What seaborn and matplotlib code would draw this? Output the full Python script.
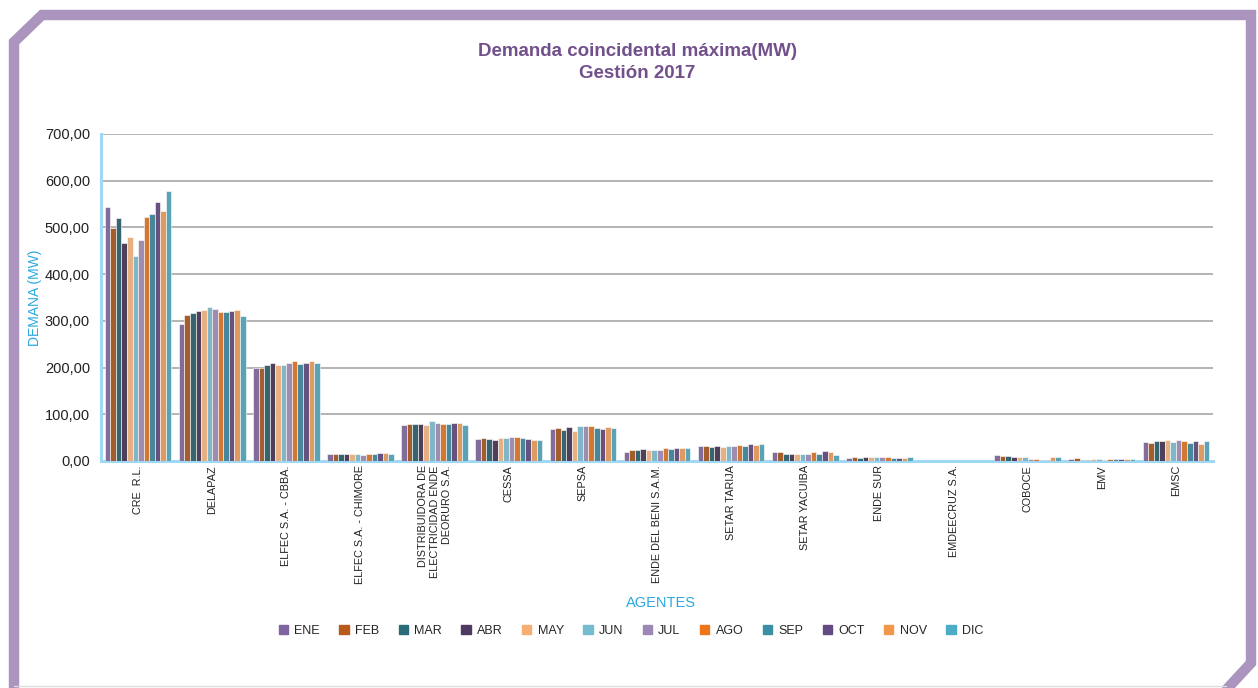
import matplotlib

matplotlib.use("Agg")
import matplotlib.pyplot as plt
import pandas as pd
import seaborn as sns
from matplotlib.lines import Line2D
from matplotlib.ticker import FuncFormatter, FixedLocator

MONTHS = ["ENE", "FEB", "MAR", "ABR", "MAY", "JUN", "JUL", "AGO", "SEP", "OCT", "NOV", "DIC"]

AGENTS = [
    "CRE  R.L.",
    "DELAPAZ",
    "ELFEC S.A. - CBBA.",
    "ELFEC S.A. - CHIMORE",
    "DISTRIBUIDORA DE\nELECTRICIDAD ENDE\nDEORURO S.A.",
    "CESSA",
    "SEPSA",
    "ENDE DEL BENI S.A.M.",
    "SETAR TARIJA",
    "SETAR YACUIBA",
    "ENDE SUR",
    "EMDEECRUZ S.A.",
    "COBOCE",
    "EMV",
    "EMSC",
]

# demanda por agente, ENE..DIC (MW)
cre = [543, 498, 520, 467, 479, 439, 473, 522, 528, 554, 535, 577]
delapaz = [293, 313, 316, 321, 323, 329, 325, 320, 320, 322, 323, 310]
elfec_cbba = [200, 200, 205, 209, 205, 205, 209, 213, 208, 209, 214, 209]
elfec_chimore = [14.3, 14.3, 14.3, 14.3, 15.0, 14.3, 13.6, 15.7, 15.0, 17.1, 17.1, 15.0]
ende_oruro = [76.4, 78.5, 78.5, 80.0, 78.0, 85.0, 82.0, 78.5, 80.0, 80.7, 80.7, 77.0]
cessa = [47.0, 48.6, 47.0, 45.7, 50.0, 48.6, 51.4, 50.7, 50.0, 46.4, 45.0, 44.3]
sepsa = [68.5, 70.0, 66.4, 72.8, 64.3, 74.3, 74.3, 74.3, 71.4, 69.3, 72.8, 71.4]
ende_beni = [20.0, 22.8, 24.3, 25.7, 24.3, 22.8, 23.5, 27.8, 26.4, 27.8, 27.0, 28.5]
setar_tarija = [32.0, 32.0, 30.7, 31.4, 30.7, 32.0, 32.0, 34.3, 32.8, 35.7, 35.0, 35.7]
setar_yacuiba = [19.3, 18.6, 15.7, 15.0, 14.3, 15.7, 15.7, 19.3, 15.7, 21.4, 20.0, 13.6]
ende_sur = [7.1, 7.8, 7.1, 8.6, 7.8, 7.8, 7.8, 8.6, 6.4, 6.4, 7.1, 7.8]
emdeecruz = [0, 0, 0, 0, 0, 0, 0, 0, 0, 0, 0, 0]
coboce = [12.8, 10.7, 10.7, 8.6, 8.6, 7.8, 5.0, 4.3, 2.8, 2.1, 8.6, 8.6]
emv = [4.3, 5.7, 2.8, 2.8, 4.3, 4.3, 2.8, 4.3, 3.6, 3.6, 3.6, 3.6]
emsc = [40.7, 39.3, 42.0, 42.8, 45.7, 41.4, 45.0, 43.5, 39.3, 42.0, 36.4, 42.0]

VALUES = [cre, delapaz, elfec_cbba, elfec_chimore, ende_oruro, cessa, sepsa, ende_beni,
          setar_tarija, setar_yacuiba, ende_sur, emdeecruz, coboce, emv, emsc]

COLORS = ["#8064A2", "#B85A1A", "#2C6B7A", "#4E3A60", "#F7AE72", "#75BCD0",
          "#9D87B7", "#EE7518", "#3A8FA6", "#654B86", "#F3984B", "#4BACC6"]

BLUE = "#29A9E1"
AXIS_BLUE = "#9FD8F5"
PURPLE = "#72508C"


def main() -> None:
    rows = []
    for agent, vals in zip(AGENTS, VALUES):
        for month, v in zip(MONTHS, vals):
            rows.append({"Agente": agent, "Mes": month, "Demanda": v})
    df = pd.DataFrame(rows)

    sns.set_theme(style="white")
    plt.rcParams["font.family"] = ["Liberation Sans Narrow", "Liberation Sans", "DejaVu Sans"]

    fig = plt.figure(figsize=(12.58, 6.88), dpi=100)
    ax = fig.add_axes([101 / 1258, 1 - 461 / 688, (1213 - 101) / 1258, (461 - 134) / 688])

    sns.barplot(data=df, x="Agente", y="Demanda", hue="Mes", hue_order=MONTHS,
                order=AGENTS, palette=COLORS, width=0.9, ax=ax,
                edgecolor="white", linewidth=0.4, legend=False, zorder=3)

    ax.set_ylim(0, 700)
    ax.set_xlim(-0.5, len(AGENTS) - 0.5)
    ax.yaxis.set_major_locator(FixedLocator(range(0, 701, 100)))
    ax.yaxis.set_major_formatter(FuncFormatter(lambda v, _: f"{v:.2f}".replace(".", ",")))
    ax.grid(axis="y", color="#B3B3B3", linewidth=1.4, zorder=0)
    ax.set_axisbelow(True)

    for side in ["top", "right"]:
        ax.spines[side].set_visible(False)
    for side in ["left", "bottom"]:
        ax.spines[side].set_color(AXIS_BLUE)
        ax.spines[side].set_linewidth(2.2)

    ax.set_xticks([i + 0.5 for i in range(-1, len(AGENTS))])
    ax.set_xticklabels([""] * (len(AGENTS) + 1))
    ax.tick_params(axis="x", direction="out", length=5, width=1.5, color=AXIS_BLUE)
    ax.tick_params(axis="y", direction="out", length=5, width=1.5, color=AXIS_BLUE,
                   labelsize=10.5, labelcolor="#222222", pad=3)

    for i, name in enumerate(AGENTS):
        ax.text(i, -9, name, rotation=90, ha="center", va="top", multialignment="right",
                fontsize=7.8, color="#222222", linespacing=1.25)

    ax.set_xlabel("")
    ax.set_ylabel("")
    fig.text(35 / 1258, 1 - 298 / 688, "DEMANA (MW)", rotation=90, ha="center", va="center",
             fontsize=10, color=BLUE)
    fig.text(661 / 1258, 1 - 603 / 688, "AGENTES", ha="center", va="center",
             fontsize=10.5, color=BLUE)

    fig.text(637 / 1258, 1 - 52 / 688, "Demanda coincidental máxima(MW)", ha="center", va="center",
             fontsize=13.5, fontweight="bold", color=PURPLE)
    fig.text(637 / 1258, 1 - 74 / 688, "Gestión 2017", ha="center", va="center",
             fontsize=13.5, fontweight="bold", color=PURPLE)

    handles = [plt.Rectangle((0, 0), 1, 1, color=c) for c in COLORS]
    fig.legend(handles, MONTHS, loc="center", bbox_to_anchor=(631 / 1258, 1 - 631 / 688),
               ncol=12, frameon=False, fontsize=9, handlelength=0.75, handleheight=0.75,
               handletextpad=0.5, columnspacing=1.55)

    # marco morado con esquinas cortadas
    W, H = 1258, 688
    xs = [14, 14, 42, 1251, 1251, 1226]
    ys = [700, 42, 15, 15, 663, 690]
    fig.add_artist(Line2D([x / W for x in xs], [1 - y / H for y in ys], color="#AB94BE",
                          linewidth=7.5, solid_joinstyle="miter", transform=fig.transFigure))
    fig.add_artist(Line2D([14 / W, 1226 / W], [1 - 686 / H, 1 - 686 / H], color="#DDDDDD",
                          linewidth=1.0, transform=fig.transFigure))

    fig.savefig("out.png", dpi=100)


if __name__ == "__main__":
    main()
